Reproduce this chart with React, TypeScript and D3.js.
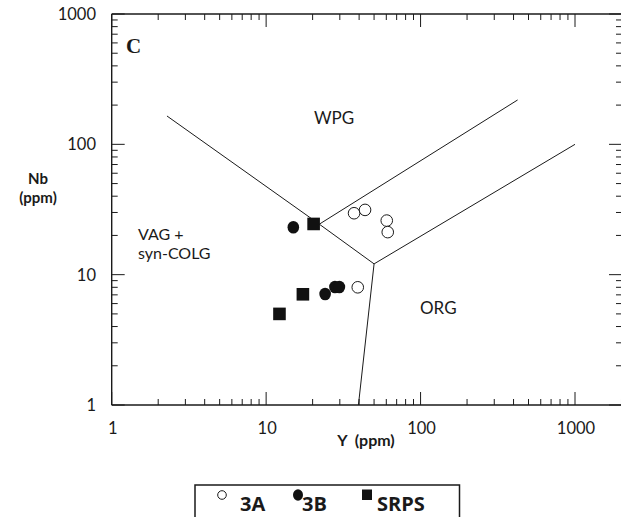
import React from "react";
import * as d3 from "d3";

const W = 621;
const H = 517;

// Data (Y ppm, Nb ppm)
const series3A: [number, number][] = [
  [37.1, 29.6],
  [43.7, 31.4],
  [60.4, 26.0],
  [61.3, 21.2],
  [39.2, 8.0],
];
const series3B: [number, number][] = [
  [15.0, 23.1],
  [24.1, 7.1],
  [27.9, 8.05],
  [29.8, 8.05],
];
const seriesSRPS: [number, number][] = [
  [20.3, 24.5],
  [17.3, 7.07],
  [12.2, 5.0],
];

// Discrimination boundaries (Y, Nb)
const boundaries: [number, number][][] = [
  [[2.28, 165], [22.1, 24.4], [50, 12.1], [1000, 100]],
  [[22.1, 24.4], [425, 219]],
  [[50, 12.1], [39.6, 1]],
];

const xTickLabels = [1, 10, 100, 1000];
const yTickLabels = [1, 10, 100, 1000];
const legendNames = ["3A", "3B", "SRPS"];

export default function App() {
  const left = 111.7;
  const right = 622;
  const top = 14;
  const bottom = 405;
  const x = d3.scaleLog().domain([1, 1000]).range([left, 575]);
  const y = d3.scaleLog().domain([1, 1000]).range([bottom, top]);

  const minorX: number[] = [];
  for (let d = 1; d <= 1000; d *= 10) {
    for (let k = 1; k <= 9; k++) {
      const v = d * k;
      if (x(v) <= right) minorX.push(v);
    }
  }
  const minorY: number[] = [];
  for (let d = 1; d <= 100; d *= 10) {
    for (let k = 1; k <= 9; k++) minorY.push(d * k);
  }
  minorY.push(1000);
  const isMajor = (v: number) => Math.abs(Math.log10(v) - Math.round(Math.log10(v))) < 1e-9;

  const line = d3
    .line<[number, number]>()
    .x((d) => x(d[0]))
    .y((d) => y(d[1]));

  const font = "Lato, 'Open Sans', sans-serif";
  const maj = 13;
  const mn = 6;
  const ink = "#1a1a1a";

  return (
    <svg
      width={W}
      height={H}
      style={{ position: "absolute", left: 0, top: 0, background: "#fff" }}
      fontFamily={font}
    >
      <rect x={0} y={0} width={W} height={H} fill="#fff" />
      {/* frame */}
      <line x1={left} x2={right} y1={top} y2={top} stroke={ink} strokeWidth={1.7} />
      <line x1={left} x2={right} y1={bottom} y2={bottom} stroke={ink} strokeWidth={1.4} />
      <line x1={left} x2={left} y1={top} y2={bottom} stroke={ink} strokeWidth={1.4} />
      <line x1={right} x2={right} y1={top} y2={bottom} stroke={ink} strokeWidth={1.4} />

      {/* x ticks */}
      {minorX.map((v, i) => {
        const len = isMajor(v) ? maj : mn;
        return (
          <g key={"xt" + i} stroke={ink} strokeWidth={1}>
            <line x1={x(v)} x2={x(v)} y1={bottom} y2={bottom - len} />
            <line x1={x(v)} x2={x(v)} y1={top} y2={top + len} />
          </g>
        );
      })}
      {/* y ticks */}
      {minorY.map((v, i) => {
        const len = isMajor(v) ? maj : mn;
        return (
          <g key={"yt" + i} stroke={ink} strokeWidth={1}>
            <line x1={left} x2={left + len} y1={y(v)} y2={y(v)} />
            <line x1={right} x2={right - len} y1={y(v)} y2={y(v)} />
          </g>
        );
      })}

      {/* tick labels */}
      {xTickLabels.map((v) => (
        <text key={"xl" + v} x={x(v) + 1} y={434} textAnchor="middle" fontSize={16.5} fill={ink}>
          {v}
        </text>
      ))}
      {yTickLabels.map((v) => (
        <text key={"yl" + v} x={96} y={y(v) + 6} textAnchor="end" fontSize={16.5} fill={ink}>
          {v}
        </text>
      ))}

      {/* axis titles */}
      <text x={366} y={446} textAnchor="middle" fontSize={16} fontWeight="bold" fill={ink}>
        Y{"\u00a0\u00a0"}(ppm)
      </text>
      <text x={38} y={184} textAnchor="middle" fontSize={15} fontWeight="bold" fill={ink}>
        Nb
      </text>
      <text x={38} y={203} textAnchor="middle" fontSize={15} fontWeight="bold" fill={ink}>
        (ppm)
      </text>

      {/* panel letter */}
      <text x={126} y={53} fontSize={21} fontWeight="bold" fontFamily="'Liberation Serif', serif" fill={ink}>
        C
      </text>

      {/* boundaries */}
      {boundaries.map((b, i) => (
        <path key={"b" + i} d={line(b) || ""} fill="none" stroke={ink} strokeWidth={1} />
      ))}

      {/* field labels */}
      <text x={334} y={124} textAnchor="middle" fontSize={17} fill={ink}>
        WPG
      </text>
      <text x={138} y={240} fontSize={16} fill={ink}>
        VAG +
      </text>
      <text x={138} y={259} fontSize={16} fill={ink}>
        syn-COLG
      </text>
      <text x={420} y={314} fontSize={17} fill={ink}>
        ORG
      </text>

      {/* data */}
      {series3A.map((d, i) => (
        <circle key={"a" + i} cx={x(d[0])} cy={y(d[1])} r={5.8} fill="#fff" stroke={ink} strokeWidth={1} />
      ))}
      {series3B.map((d, i) => (
        <ellipse key={"bb" + i} cx={x(d[0])} cy={y(d[1])} rx={5.8} ry={6.3} fill="#111" />
      ))}
      {seriesSRPS.map((d, i) => (
        <rect key={"s" + i} x={x(d[0]) - 6.3} y={y(d[1]) - 6.3} width={12.6} height={12.6} fill="#111" />
      ))}

      {/* legend */}
      <rect x={195} y={485} width={264.5} height={50} fill="#fff" stroke={ink} strokeWidth={1.5} />
      <circle cx={222} cy={495} r={4.3} fill="#fff" stroke={ink} strokeWidth={1} />
      <text x={240} y={511} fontSize={20} fontWeight="bold" fill={ink} fontFamily="'Open Sans', sans-serif">
        {legendNames[0]}
      </text>
      <ellipse cx={298} cy={495} rx={5} ry={5.8} fill="#111" />
      <text x={302} y={511} fontSize={20} fontWeight="bold" fill={ink} fontFamily="'Open Sans', sans-serif">
        {legendNames[1]}
      </text>
      <rect x={362} y={489.5} width={10} height={10.5} fill="#111" />
      <text x={377} y={511} fontSize={20} fontWeight="bold" fill={ink} fontFamily="'Open Sans', sans-serif">
        {legendNames[2]}
      </text>
    </svg>
  );
}
